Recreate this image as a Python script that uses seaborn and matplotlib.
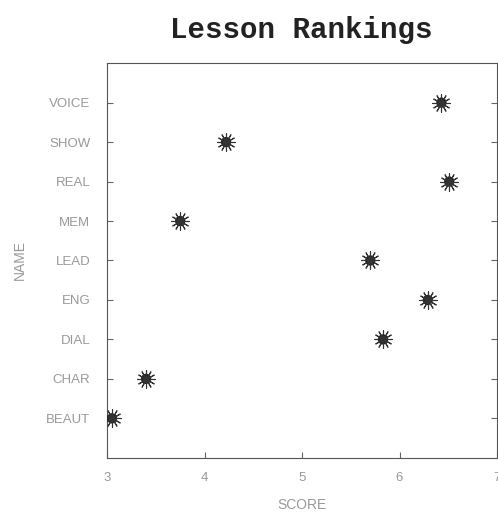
import pandas as pd
import matplotlib.pyplot as plt
import seaborn as sns

# Values
names = ["VOICE", "SHOW", "REAL", "MEM", "LEAD", "ENG", "DIAL", "CHAR", "BEAUT"]
scores = [6.43, 4.22, 6.51, 3.75, 5.70, 6.29, 5.83, 3.40, 3.05]

df = pd.DataFrame({"name": names, "score": scores})

sns.set_theme(style="white")
plt.rcParams["font.family"] = ["Liberation Sans", "DejaVu Sans"]

fig = plt.figure(figsize=(4.98, 5.22), dpi=100)
ax = fig.add_axes([0.215, 0.123, 0.783, 0.756])

# starburst markers: filled dot plus asterisk rays
sns.scatterplot(data=df, x="score", y="name", ax=ax, marker="o", s=55,
                color="#222222", edgecolor="none", zorder=3)
sns.scatterplot(data=df, x="score", y="name", ax=ax, marker=(12, 2, 0), s=160,
                color="#333333", linewidth=0.8, zorder=3)

ax.set_xlim(3, 7)
ax.set_ylim(len(names), -1)
ax.set_xticks([3, 4, 5, 6, 7])

grey = "#999999"
for sp in ax.spines.values():
    sp.set_color("#555555")
    sp.set_linewidth(0.8)
ax.tick_params(axis="both", direction="in", length=4, width=0.8,
               colors="#666666", labelcolor=grey, labelsize=9.5, pad=10)
ax.tick_params(axis="y", right=True, left=True, pad=12)
ax.tick_params(axis="x", bottom=True, top=False)

ax.set_xlabel("SCORE", color=grey, fontsize=10, labelpad=10)
ax.set_ylabel("NAME", color=grey, fontsize=10, labelpad=14)

fig.text(0.605, 0.942, "Lesson Rankings", ha="center", va="center",
         fontsize=21, fontweight="bold", family=["Liberation Mono", "DejaVu Sans Mono"],
         color="#222222")

fig.savefig("out.png", dpi=100)
plt.close(fig)
